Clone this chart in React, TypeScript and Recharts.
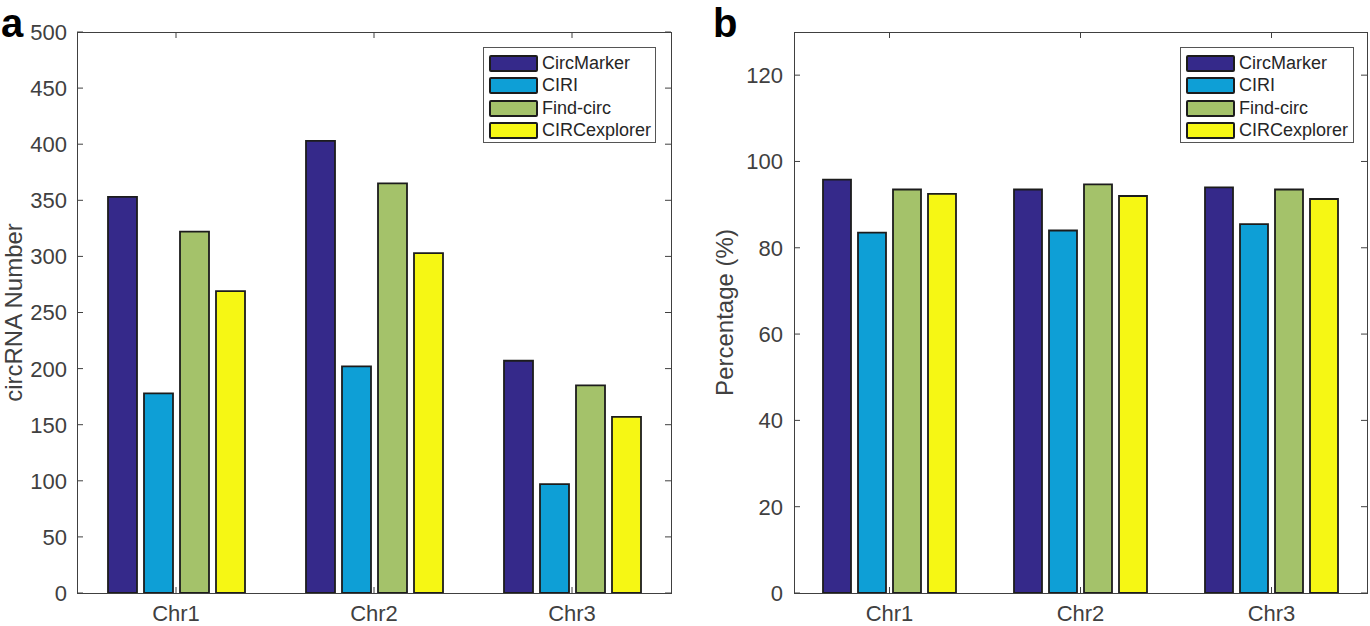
import React from "react";
import { BarChart, Bar, XAxis, YAxis } from "recharts";

const CHROMS = ["Chr1", "Chr2", "Chr3"];
const METHODS = ["CircMarker", "CIRI", "Find-circ", "CIRCexplorer"];

// panel a: circRNA number
const NUM_CIRCMARKER = [353, 403, 207];
const NUM_CIRI = [178, 202, 97];
const NUM_FINDCIRC = [322, 365, 185];
const NUM_CIRCEXPLORER = [269, 303, 157];
const NUM_TICKS = [0, 50, 100, 150, 200, 250, 300, 350, 400, 450, 500];

// panel b: percentage
const PCT_CIRCMARKER = [95.8, 93.5, 94.0];
const PCT_CIRI = [83.5, 84.0, 85.5];
const PCT_FINDCIRC = [93.5, 94.7, 93.5];
const PCT_CIRCEXPLORER = [92.5, 92.0, 91.3];
const PCT_TICKS = [0, 20, 40, 60, 80, 100, 120];

const COLORS = ["#35298a", "#0e9fd6", "#a4c26a", "#f6f714"];
const EDGE = "#1c1c1c";
const AXIS = "#404040";
const FONT = "'Liberation Sans', Arial, Helvetica, sans-serif";

const countData = CHROMS.map((c, i) => ({
  chr: c,
  CircMarker: NUM_CIRCMARKER[i],
  CIRI: NUM_CIRI[i],
  "Find-circ": NUM_FINDCIRC[i],
  CIRCexplorer: NUM_CIRCEXPLORER[i],
}));

const pctData = CHROMS.map((c, i) => ({
  chr: c,
  CircMarker: PCT_CIRCMARKER[i],
  CIRI: PCT_CIRI[i],
  "Find-circ": PCT_FINDCIRC[i],
  CIRCexplorer: PCT_CIRCEXPLORER[i],
}));

type Box = { left: number; right: number; top: number; bottom: number; gap: number };

const YTick = (p: any, b: Box) => (
  <g>
    <line x1={b.left} x2={b.left + 6} y1={p.y} y2={p.y} stroke={AXIS} />
    <line x1={b.right} x2={b.right - 6} y1={p.y} y2={p.y} stroke={AXIS} />
    <text x={b.left - b.gap} y={p.y} dy="0.36em" textAnchor="end"
      fontSize={22} fill={AXIS} fontFamily={FONT}>{p.payload.value}</text>
  </g>
);

const XTick = (p: any, b: Box) => (
  <g>
    <line x1={p.x} x2={p.x} y1={b.bottom} y2={b.bottom - 6} stroke={AXIS} />
    <line x1={p.x} x2={p.x} y1={b.top} y2={b.top + 6} stroke={AXIS} />
    <text x={p.x} y={b.bottom + 28} textAnchor="middle"
      fontSize={22} fill={AXIS} fontFamily={FONT}>{p.payload.value}</text>
  </g>
);

function LegendBox({ left, top, width }: { left: number; top: number; width: number }) {
  return (
    <div style={{
      position: "absolute", left, top, width, height: 96, boxSizing: "border-box",
      border: "1.5px solid #555", background: "#fff", padding: "4px 0 0 5px",
    }}>
      {METHODS.map((m, i) => (
        <div key={m} style={{ display: "flex", alignItems: "center", height: 22.5 }}>
          <div style={{
            width: 49, height: 17, boxSizing: "border-box", background: COLORS[i],
            border: `2px solid ${EDGE}`, borderRadius: 2, marginRight: 4,
          }} />
          <span style={{ fontFamily: FONT, fontSize: 18, color: "#262626" }}>{m}</span>
        </div>
      ))}
    </div>
  );
}

function Panel(props: {
  left: number; width: number; data: any[]; domain: [number, number]; ticks: number[];
  yw: number; barSize: number; barGap: number; gap: number;
  label: string; labelX: number; letter: string; letterX: number; legendX: number; legendW: number;
}) {
  const H = 626;
  const top = 32;
  const bottom = 593;
  const plotRight = props.width - 3 - (props.left === 0 ? 16 : 0);
  const box: Box = { left: props.yw, right: plotRight, top, bottom, gap: props.gap };
  return (
    <div style={{ position: "absolute", left: props.left, top: 0, width: props.width, height: H }}>
      <BarChart width={props.width} height={H} data={props.data}
        margin={{ top, right: props.width - plotRight, bottom: 0, left: 0 }}
        barGap={props.barGap}>
        <XAxis dataKey="chr" height={H - bottom} axisLine={false} tickLine={false}
          tick={(p: any) => XTick(p, box)} interval={0} />
        <YAxis type="number" domain={props.domain} ticks={props.ticks} width={props.yw}
          axisLine={false} tickLine={false} interval={0} allowDataOverflow
          tick={(p: any) => YTick(p, box)} />
        {METHODS.map((m, i) => (
          <Bar key={m} dataKey={m} fill={COLORS[i]} stroke={EDGE} strokeWidth={1.8}
            barSize={props.barSize} isAnimationActive={false} />
        ))}
      </BarChart>
      <div style={{
        position: "absolute", left: box.left, top, width: plotRight - box.left + 1,
        height: bottom - top + 1, boxSizing: "border-box", border: `1px solid ${AXIS}`,
        pointerEvents: "none",
      }} />
      <svg style={{ position: "absolute", left: 0, top: 0, pointerEvents: "none" }}
        width={props.width} height={H}>
        <text transform={`rotate(-90, ${props.labelX}, ${(top + bottom) / 2})`}
          x={props.labelX} y={(top + bottom) / 2} textAnchor="middle"
          fontSize={24} fill={AXIS} fontFamily={FONT}>{props.label}</text>
        <text x={props.letterX} y={37} fontSize={40} fontWeight="bold" fill="#000"
          fontFamily={FONT}>{props.letter}</text>
      </svg>
      <LegendBox left={props.legendX} top={47} width={props.legendW} />
    </div>
  );
}

export default function App() {
  return (
    <div style={{ position: "absolute", left: 0, top: 0, width: 1370, height: 626, background: "#fff" }}>
      <Panel left={0} width={690} data={countData} domain={[0, 500]} ticks={NUM_TICKS}
        yw={77} barSize={29} barGap={7} gap={10}
        label="circRNA Number" labelX={22} letter="a" letterX={1}
        legendX={483} legendW={173} />
      <Panel left={690} width={680} data={pctData} domain={[0, 130]} ticks={PCT_TICKS}
        yw={104} barSize={28} barGap={7} gap={11}
        label="Percentage (%)" labelX={43} letter="b" letterX={23}
        legendX={490} legendW={174} />
    </div>
  );
}
